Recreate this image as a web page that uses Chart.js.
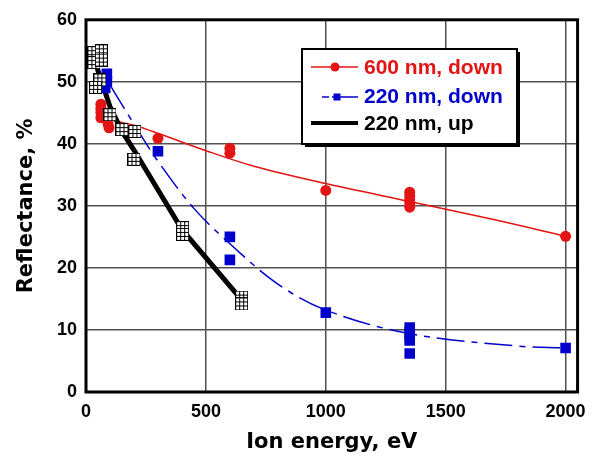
<!doctype html>
<html>
    <head>
        <meta charset="utf-8">
        <script src="https://cdn.jsdelivr.net/npm/chart.js"></script>
        <style>
            body {
                margin: 0px;
                background-color: white;
            }
            #chart {
                display: block;
            }
        </style>
    </head>
    <body>

        <canvas id="chart" width="595" height="458"></canvas>

        <script>

        // 600 nm, down - measured points
        const redEnergy = [62, 62, 62, 62, 92, 96, 300, 600, 600, 1000, 1350, 1350, 1350, 1350, 1350, 2000];
        const redValues = [46.4, 45.7, 45.0, 44.2, 43.2, 42.6, 40.9, 39.3, 38.5, 32.5, 32.2, 31.6, 31.0, 30.4, 29.8, 25.1];
        // 600 nm, down - trend curve
        const redFitEnergy = [110, 200, 300, 500, 700, 1000, 1350, 1700, 2000];
        const redFitValues = [43.8, 43.0, 41.7, 38.9, 36.4, 33.6, 30.7, 27.8, 25.1];

        // 220 nm, down - measured points
        const blueEnergy = [87, 87, 80, 300, 600, 600, 1000, 1350, 1350, 1350, 1350, 1350, 2000];
        const blueValues = [51.3, 50.1, 49.0, 38.8, 25.0, 21.3, 12.8, 10.4, 9.7, 9.0, 8.3, 6.2, 7.1];
        // 220 nm, down - trend curve
        const blueFitEnergy = [100, 200, 300, 450, 600, 800, 1000, 1350, 1800, 2000];
        const blueFitValues = [49.5, 43.2, 37.2, 29.6, 23.9, 17.4, 13.2, 9.4, 7.4, 7.1];

        // 220 nm, up - measured points and connecting line
        const upEnergy = [33, 33, 64, 64, 58, 40, 100, 150, 204, 200, 403, 403, 649, 649];
        const upValues = [54.7, 53.1, 55.0, 53.5, 50.3, 49.1, 44.7, 42.3, 42.0, 37.5, 26.5, 25.4, 15.3, 14.2];
        const upLineEnergy = [33, 55, 100, 150, 200, 400, 650];
        const upLineValues = [54.0, 51.2, 46.0, 42.0, 39.0, 26.2, 14.8];

        const xTicks = [0, 500, 1000, 1500, 2000];
        const yTicks = [0, 10, 20, 30, 40, 50, 60];

        const legendLabels = ['600 nm, down', '220 nm, down', '220 nm, up'];

        const RED = '#e31414';
        const BLUE = '#0000cc';
        const FONT = '"Liberation Sans", Arial, sans-serif';
        const TITLE_FONT = '"DejaVu Sans", sans-serif';

        function pts(xs, ys) {
            return xs.map((x, i) => ({ x: x, y: ys[i] }));
        }

        // open square with a 3x3 grid inside
        function gridBox(size) {
            const c = document.createElement('canvas');
            c.width = size;
            c.height = size;
            const g = c.getContext('2d');
            g.fillStyle = 'white';
            g.fillRect(0, 0, size, size);
            g.strokeStyle = 'black';
            g.lineWidth = 1;
            g.strokeRect(0.5, 0.5, size - 1, size - 1);
            const step = (size - 1) / 3;
            g.beginPath();
            for (let k = 1; k < 3; k++) {
                const p = Math.round(step * k) + 0.5;
                g.moveTo(p, 0);
                g.lineTo(p, size);
                g.moveTo(0, p);
                g.lineTo(size, p);
            }
            g.stroke();
            return c;
        }

        const boxMarker = gridBox(13);

        // thick frame around the plot area, under the data
        const frame = {
            id: 'frame',
            beforeDatasetsDraw(chart) {
                const a = chart.chartArea;
                const ctx = chart.ctx;
                ctx.save();
                ctx.strokeStyle = 'black';
                ctx.lineWidth = 3;
                ctx.strokeRect(a.left, a.top, a.right - a.left, a.bottom - a.top);
                ctx.restore();
            }
        };

        // boxed legend with drop shadow
        const boxLegend = {
            id: 'boxLegend',
            afterDraw(chart) {
                const ctx = chart.ctx;
                const x = 302, y = 49, w = 215, h = 95;
                ctx.save();
                ctx.fillStyle = 'black';
                ctx.fillRect(x + 3, y + 3, w, h);
                ctx.fillStyle = 'white';
                ctx.fillRect(x, y, w, h);
                ctx.strokeStyle = 'black';
                ctx.lineWidth = 2;
                ctx.strokeRect(x, y, w, h);

                // red sample
                ctx.strokeStyle = RED;
                ctx.lineWidth = 1.5;
                ctx.beginPath();
                ctx.moveTo(311, 67);
                ctx.lineTo(358, 67);
                ctx.stroke();
                ctx.fillStyle = RED;
                ctx.beginPath();
                ctx.arc(335, 67, 4.5, 0, Math.PI * 2);
                ctx.fill();

                // blue sample
                ctx.strokeStyle = BLUE;
                ctx.beginPath();
                ctx.moveTo(322, 97);
                ctx.lineTo(329, 97);
                ctx.moveTo(332, 97);
                ctx.lineTo(358, 97);
                ctx.stroke();
                ctx.fillStyle = BLUE;
                ctx.fillRect(333.5, 93.5, 7, 7);

                // black sample
                ctx.strokeStyle = 'black';
                ctx.lineWidth = 4;
                ctx.beginPath();
                ctx.moveTo(311, 123);
                ctx.lineTo(358, 123);
                ctx.stroke();

                ctx.font = 'bold 21px ' + FONT;
                ctx.textBaseline = 'middle';
                ctx.textAlign = 'left';
                const colors = [RED, BLUE, 'black'];
                const rows = [68, 97, 124];
                legendLabels.forEach((t, i) => {
                    ctx.fillStyle = colors[i];
                    ctx.fillText(t, 364, rows[i]);
                });
                ctx.restore();
            }
        };

        const chart = new Chart(document.getElementById('chart'), {
            type: 'scatter',
            data: {
                datasets: [
                    {
                        label: legendLabels[2],
                        data: pts(upEnergy, upValues),
                        pointStyle: boxMarker,
                        showLine: false,
                        order: 0
                    },
                    {
                        label: legendLabels[1],
                        data: pts(blueEnergy, blueValues),
                        pointStyle: 'rect',
                        pointRadius: 7.5,
                        backgroundColor: BLUE,
                        borderWidth: 0,
                        showLine: false,
                        order: 1
                    },
                    {
                        label: legendLabels[0],
                        data: pts(redEnergy, redValues),
                        pointStyle: 'circle',
                        pointRadius: 5.5,
                        backgroundColor: RED,
                        borderWidth: 0,
                        showLine: false,
                        order: 2
                    },
                    {
                        data: pts(upLineEnergy, upLineValues),
                        showLine: true,
                        borderColor: 'black',
                        borderWidth: 5,
                        pointRadius: 0,
                        order: 3
                    },
                    {
                        data: pts(blueFitEnergy, blueFitValues),
                        showLine: true,
                        borderColor: BLUE,
                        borderWidth: 1.5,
                        borderDash: [28, 7, 6, 7],
                        tension: 0.35,
                        pointRadius: 0,
                        order: 4
                    },
                    {
                        data: pts(redFitEnergy, redFitValues),
                        showLine: true,
                        borderColor: RED,
                        borderWidth: 1.5,
                        tension: 0.35,
                        pointRadius: 0,
                        order: 5
                    }
                ]
            },
            options: {
                responsive: false,
                animation: false,
                devicePixelRatio: 1,
                layout: {
                    padding: { left: 0, right: 16, top: 16, bottom: 0 }
                },
                plugins: {
                    legend: { display: false },
                    tooltip: { enabled: false }
                },
                scales: {
                    x: {
                        type: 'linear',
                        min: 0,
                        max: 2050,
                        afterFit: s => { s.height = 66; },
                        afterBuildTicks: s => { s.ticks = xTicks.map(v => ({ value: v })); },
                        border: { display: false },
                        grid: {
                            color: '#505050',
                            lineWidth: 1.5,
                            drawTicks: false
                        },
                        ticks: {
                            padding: 9,
                            color: 'black',
                            callback: v => String(v),
                            font: { family: FONT, size: 18, weight: 'bold' }
                        },
                        title: {
                            display: true,
                            text: 'Ion energy, eV',
                            color: 'black',
                            padding: { top: 0, bottom: 3 },
                            font: { family: TITLE_FONT, size: 21, weight: 'bold' }
                        }
                    },
                    y: {
                        min: 0,
                        max: 60,
                        afterFit: s => { s.width = 86; },
                        afterBuildTicks: s => { s.ticks = yTicks.map(v => ({ value: v })); },
                        border: { display: false },
                        grid: {
                            color: '#505050',
                            lineWidth: 1.5,
                            drawTicks: false
                        },
                        ticks: {
                            padding: 9,
                            color: 'black',
                            callback: v => String(v),
                            font: { family: FONT, size: 18, weight: 'bold' }
                        },
                        title: {
                            display: true,
                            text: 'Reflectance, %',
                            color: 'black',
                            padding: { top: 14, bottom: 0 },
                            font: { family: TITLE_FONT, size: 21, weight: 'bold' }
                        }
                    }
                }
            },
            plugins: [frame, boxLegend]
        });

        </script>

    </body>
</html>
